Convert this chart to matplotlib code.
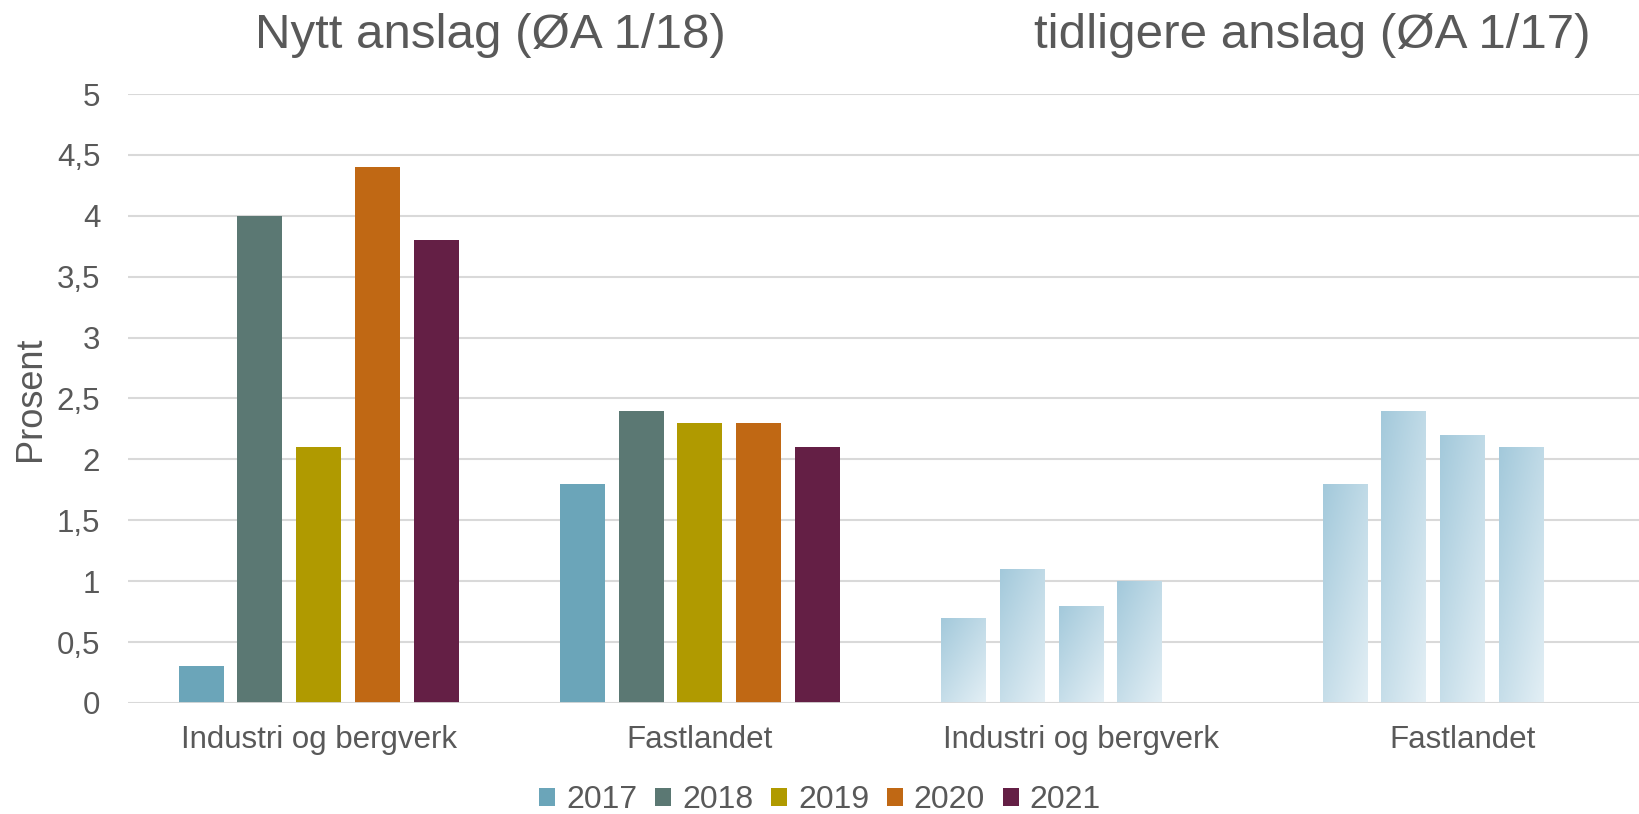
import numpy as np
import matplotlib
matplotlib.use("Agg")
import matplotlib.pyplot as plt
from matplotlib.colors import LinearSegmentedColormap

plt.rcParams['font.family'] = ['Liberation Sans', 'DejaVu Sans']

categories = ["Industri og bergverk", "Fastlandet", "Industri og bergverk", "Fastlandet"]
years = ["2017", "2018", "2019", "2020", "2021"]
colors = ["#6ba5b9", "#5b7873", "#b09a00", "#c06814", "#641f45"]

# nytt anslag (ØA 1/18), one list per category
new_industri = [0.3, 4.0, 2.1, 4.4, 3.8]
new_fastland = [1.8, 2.4, 2.3, 2.3, 2.1]
# tidligere anslag (ØA 1/17), 2017-2020
old_industri = [0.7, 1.1, 0.8, 1.0]
old_fastland = [1.8, 2.4, 2.2, 2.1]

yticks = [0, 0.5, 1, 1.5, 2, 2.5, 3, 3.5, 4, 4.5, 5]
ytick_labels = ["0", "0,5", "1", "1,5", "2", "2,5", "3", "3,5", "4", "4,5", "5"]

txt = "#595959"
grid = "#d9d9d9"

fig = plt.figure(figsize=(16.4, 8.14), dpi=100)
ax = fig.add_axes([0.078, 0.1364, 0.93, 0.7481])

pitch = 0.154
width = 0.118
offsets = [(i - 2) * pitch for i in range(5)]

# new forecast bars, solid colours
for gi, vals in enumerate([new_industri, new_fastland]):
    for i, v in enumerate(vals):
        ax.bar(gi + offsets[i], v, width=width, color=colors[i], zorder=3,
               label=years[i] if gi == 0 else None)

# old forecast bars, light blue gradient
cmap = LinearSegmentedColormap.from_list("lb", ["#a3c9db", "#e3eff5"])
gy, gx = np.mgrid[0:1:100j, 0:1:40j]
grad = (gx * 0.45 + gy * 0.55)
for gi, vals in zip([2, 3], [old_industri, old_fastland]):
    for i, v in enumerate(vals):
        x0 = gi + offsets[i] - width / 2
        b = ax.bar(gi + offsets[i], v, width=width, color="none", zorder=3)[0]
        im = ax.imshow(grad, cmap=cmap, aspect="auto", origin="upper",
                       extent=[x0, x0 + width, 0, v], zorder=3, interpolation="bilinear")
        im.set_clip_path(b)

ax.set_xlim(-0.5, 3.5)
ax.set_ylim(0, 5)
ax.set_yticks(yticks)
ax.set_yticklabels(ytick_labels)
ax.set_xticks(range(4))
ax.set_xticklabels(categories)
ax.yaxis.grid(True, color=grid, linewidth=1.5, zorder=0)
ax.set_axisbelow(True)
for s in ax.spines.values():
    s.set_visible(False)
ax.axhline(0, color=grid, linewidth=2, zorder=4)
ax.tick_params(axis="both", length=0, labelsize=22.5, colors=txt)
ax.tick_params(axis="x", pad=16)
ax.tick_params(axis="y", pad=20)
ax.set_ylabel("Prosent", fontsize=26, color=txt, labelpad=6)

fig.text(0.299, 0.957, "Nytt anslag (ØA 1/18)", fontsize=35.5, color=txt, ha="center", va="center")
fig.text(0.8, 0.957, "tidligere anslag (ØA 1/17)", fontsize=35.5, color=txt, ha="center", va="center")

leg = fig.legend(loc="center", bbox_to_anchor=(0.5, 0.017), ncol=5, frameon=False,
                 fontsize=23, handlelength=0.5, handleheight=0.5, handletextpad=0.35,
                 columnspacing=0.55, labelcolor=txt)

fig.savefig("out.png", dpi=100)
